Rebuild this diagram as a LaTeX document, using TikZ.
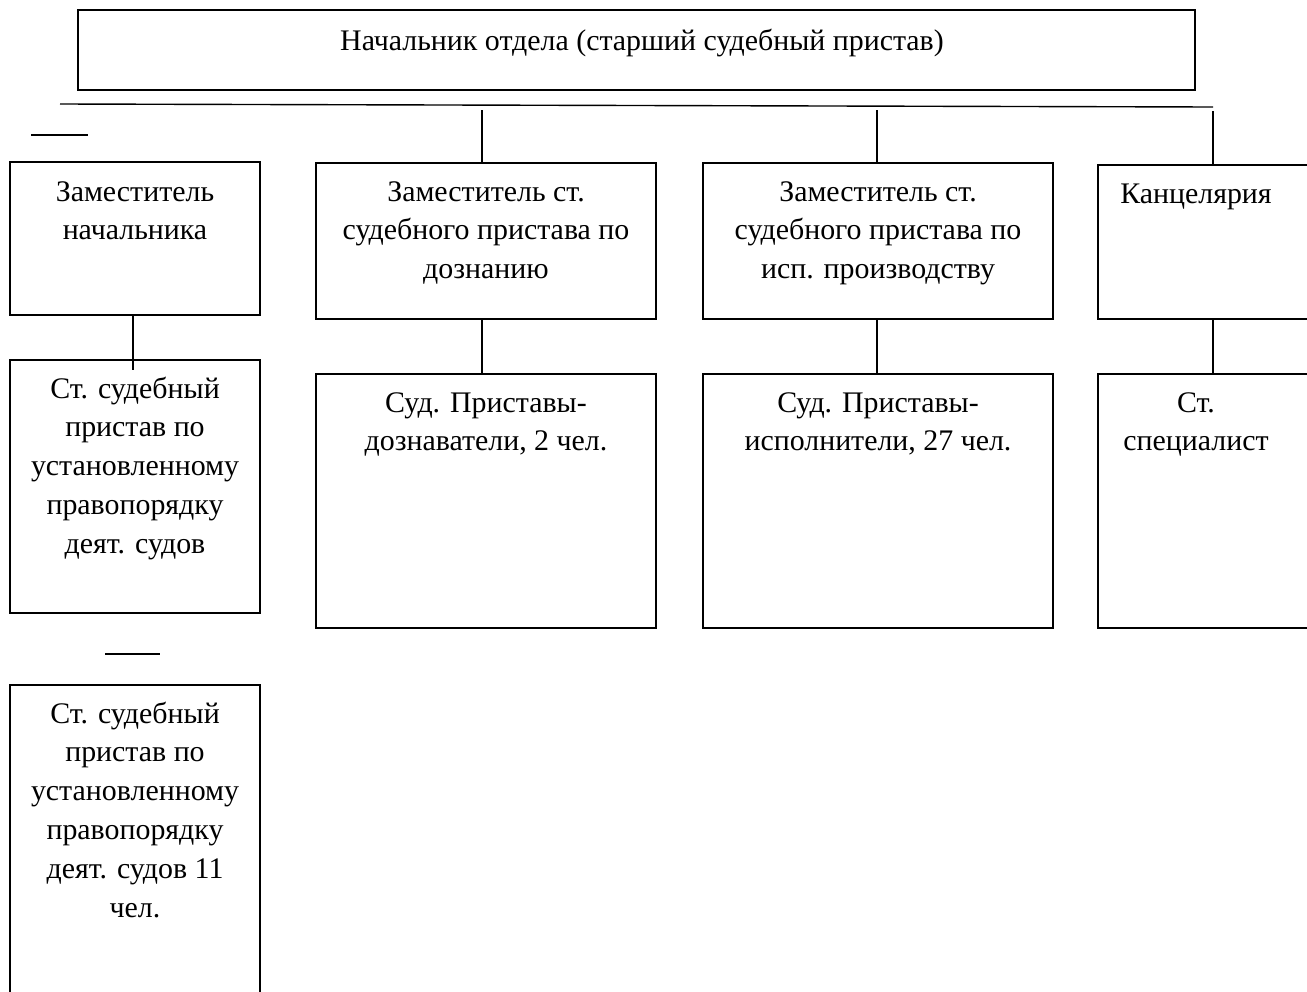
\documentclass[tikz,border=0pt]{standalone}
\usepackage{fontspec}
\setmainfont{Liberation Serif}
\begin{document}
\begin{tikzpicture}[x=1bp,y=-1bp,
  box/.style={draw, line width=1.4bp, inner sep=0pt, outer sep=0pt, anchor=north west},
  txt/.style={anchor=north, align=center, inner sep=0pt, font=\fontsize{30}{39}\selectfont},
  conn/.style={line width=1.4bp}]
\useasboundingbox (0,0) rectangle (1307,991);
\begin{scope}
\clip (0,0) rectangle (1307,991);
% boxes
\node[box, minimum width=1117bp, minimum height=80bp] (top) at (78,10) {};
\node[box, minimum width=250bp, minimum height=153bp] (b1) at (10,162) {};
\node[box, minimum width=250bp, minimum height=253bp] (b2) at (10,360) {};
\node[box, minimum width=250bp, minimum height=340bp] (b3) at (10,685) {};
\node[box, minimum width=340bp, minimum height=156bp] (c2a) at (316,163) {};
\node[box, minimum width=340bp, minimum height=254bp] (c2b) at (316,374) {};
\node[box, minimum width=350bp, minimum height=156bp] (c3a) at (703,163) {};
\node[box, minimum width=350bp, minimum height=254bp] (c3b) at (703,374) {};
\node[box, minimum width=240bp, minimum height=154bp] (c4a) at (1098,165) {};
\node[box, minimum width=240bp, minimum height=254bp] (c4b) at (1098,374) {};
% texts (first baseline = y + 27.3)
\node[txt] (ttop) at (642,22.7) {\strut Начальник отдела (старший судебный пристав)};
\node[txt] (tb1) at (135,173.7) {\strut Заместитель\\начальника};
\node[txt] (tb2) at (135,370.7) {\strut Ст. судебный\\пристав по\\установленному\\правопорядку\\деят. судов};
\node[txt] (tb3) at (135,695.7) {\strut Ст. судебный\\пристав по\\установленному\\правопорядку\\деят. судов 11\\чел.};
\node[txt] (tc2a) at (486,173.7) {\strut Заместитель ст.\\судебного пристава по\\дознанию};
\node[txt] (tc2b) at (486,384.7) {\strut Суд. Приставы-\\дознаватели, 2 чел.};
\node[txt] (tc3a) at (878,173.7) {\strut Заместитель ст.\\судебного пристава по\\исп. производству};
\node[txt] (tc3b) at (878,384.7) {\strut Суд. Приставы-\\исполнители, 27 чел.};
\node[txt] (tc4a) at (1196,175.7) {\strut Канцелярия};
\node[txt] (tc4b) at (1196,384.7) {\strut Ст.\\специалист};
% lines
\coordinate (hl) at (60,104);
\coordinate (hr) at (1213,107);
\draw[conn] (hl) -- (hr);
\coordinate (s1) at (31,135);
\coordinate (s2) at (88,135);
\draw[conn] (s1) -- (s2);
\coordinate (s3) at (105,654);
\coordinate (s4) at (160,654);
\draw[conn] (s3) -- (s4);
\coordinate (v2) at (482,110);
\coordinate (v3) at (877,110);
\coordinate (v4) at (1213,111);
\draw[conn] (v2) -- (v2 |- c2a.north);
\draw[conn] (v3) -- (v3 |- c3a.north);
\draw[conn] (v4) -- (v4 |- c4a.north);
\draw[conn] (v2 |- c2a.south) -- (v2 |- c2b.north);
\draw[conn] (v3 |- c3a.south) -- (v3 |- c3b.north);
\draw[conn] (v4 |- c4a.south) -- (v4 |- c4b.north);
\coordinate (v1) at (133,370);
\draw[conn] (v1 |- b1.south) -- (v1);
\end{scope}
\end{tikzpicture}
\end{document}
